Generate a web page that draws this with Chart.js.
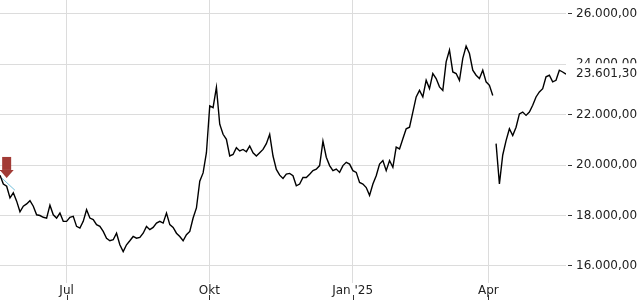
<!DOCTYPE html>
<html>
<head>
<meta charset="utf-8">
<script src="https://cdn.jsdelivr.net/npm/chart.js"></script>
<style>
  html, body { margin: 0; padding: 0; background: #fff; }
  #wrap { width: 640px; height: 300px; }
</style>
</head>
<body>
<div id="wrap"><canvas id="myChart" width="640" height="300"></canvas></div>
<script>
// index level, one sample about every 1.5 sessions (late May 2024 .. late May 2025)
var closes = [
  19600, 19250, 19160, 18700, 18900, 18570, 18150, 18370, 18460, 18590,
  18370, 18030, 18000, 17930, 17900, 18410, 18030, 17900, 18100, 17770,
  17770, 17930, 17970, 17570, 17500, 17770, 18230, 17900, 17840, 17640,
  17570, 17370, 17100, 17000, 17040, 17300, 16840, 16570, 16840, 17000,
  17170, 17100, 17130, 17300, 17570, 17440, 17530, 17700, 17770, 17700,
  18100, 17640, 17530, 17300, 17170, 17000, 17240, 17370, 17900, 18300,
  19360, 19690, 20490, 22350, 22280, 23080, 21620, 21220, 21020, 20360,
  20420, 20690, 20560, 20620, 20530, 20760, 20490, 20360, 20490, 20620,
  20850, 21220, 20360, 19830, 19600, 19470, 19640, 19670, 19580, 19180,
  19250, 19510, 19510, 19640, 19780, 19840, 19980, 20950, 20310, 19980,
  19780, 19840, 19710, 19980, 20110, 20040, 19780, 19710, 19310, 19250,
  19110, 18800, 19250, 19580, 20040, 20180, 19780, 20180, 19910, 20710,
  20640, 21040, 21440, 21500, 22100, 22700, 22960, 22700, 23360, 23030,
  23630, 23430, 23100, 22960, 24090, 24560, 23690, 23630, 23360, 24230,
  24720, 24420, 23760, 23560, 23430, 23760, 23300, 23160, 22760, 20850,
  19250, 20400, 20970, 21440, 21170, 21500, 22030, 22100, 21970, 22100,
  22370, 22700, 22900, 23030, 23500, 23560, 23300, 23360, 23760, 23690,
  23601.30
];
var gapAfter = [148];          // no line across the April gap
var lastPrice = 23601.30;

var xTickPos = [20, 62.9, 105.9, 146.7];
var xTickLabels = ['Jul', 'Okt', "Jan '25", 'Apr'];
var yTicks = [16000, 18000, 20000, 22000, 24000, 26000];

// sell signal arrow + short trend stroke at the start
var signalIndex = 2;
var signalValue = 19490;
var trendX = [0.6, 4.5];
var trendY = [19480, 19000];

function fmt(v) {
    var s = v.toFixed(2).split('.');
    return s[0].replace(/\B(?=(\d{3})+(?!\d))/g, '.') + ',' + s[1];
}

var points = [];
for (var i = 0; i < closes.length; ++i) {
    points.push({x: i, y: closes[i]});
    if (gapAfter.indexOf(i) >= 0) {
        points.push({x: i + 0.5, y: null});
    }
}
var trend = trendX.map(function (x, k) { return {x: x, y: trendY[k]}; });

var font = {family: 'DejaVu Sans', size: 12};

var overlay = {
    id: 'overlay',
    afterDatasetsDraw: function (chart) {
        var ctx = chart.ctx;
        var xs = chart.scales.x, ys = chart.scales.y;
        // red arrow
        var tx = xs.getPixelForValue(signalIndex);
        var ty = ys.getPixelForValue(signalValue);
        ctx.save();
        ctx.fillStyle = '#a23b36';
        ctx.fillRect(tx - 4.5, ty - 21, 9, 13);
        ctx.beginPath();
        ctx.moveTo(tx - 7, ty - 8);
        ctx.lineTo(tx + 7, ty - 8);
        ctx.lineTo(tx, ty);
        ctx.closePath();
        ctx.fill();
        ctx.restore();
    },
    afterDraw: function (chart) {
        var ctx = chart.ctx;
        var xs = chart.scales.x, ys = chart.scales.y;
        ctx.save();
        // little tick marks under the month labels
        ctx.strokeStyle = '#333';
        ctx.lineWidth = 1;
        xTickPos.forEach(function (v) {
            var px = Math.round(xs.getPixelForValue(v)) + 0.5;
            ctx.beginPath();
            ctx.moveTo(px, xs.bottom - 5);
            ctx.lineTo(px, xs.bottom);
            ctx.stroke();
        });
        // last price label
        var py = ys.getPixelForValue(lastPrice);
        ctx.fillStyle = '#fff';
        ctx.fillRect(ys.left + 2, py - 11, ys.width, 21);
        ctx.fillStyle = '#222';
        ctx.font = '12px "DejaVu Sans"';
        ctx.textBaseline = 'middle';
        ctx.fillText(fmt(lastPrice), ys.left + 10, py);
        ctx.restore();
    }
};

new Chart(document.getElementById('myChart'), {
    type: 'line',
    data: {
        datasets: [{
            data: points,
            borderColor: '#000',
            borderWidth: 1.4,
            pointRadius: 0,
            tension: 0,
            spanGaps: false
        }, {
            data: trend,
            borderColor: 'rgba(100,185,215,0.9)',
            borderWidth: 1,
            pointRadius: 0
        }]
    },
    options: {
        responsive: false,
        animation: false,
        layout: {padding: 0},
        plugins: {legend: {display: false}, tooltip: {enabled: false}},
        scales: {
            x: {
                type: 'linear',
                min: 0,
                max: closes.length - 1,
                grid: {color: '#dcdcdc', drawTicks: false},
                border: {display: false},
                afterBuildTicks: function (s) {
                    s.ticks = xTickPos.map(function (v) { return {value: v}; });
                },
                ticks: {
                    autoSkip: false,
                    maxRotation: 0,
                    padding: 1,
                    color: '#222',
                    font: font,
                    callback: function (v, i) { return xTickLabels[i]; }
                },
                afterFit: function (s) { s.height = 17; s.paddingLeft = 0; s.paddingRight = 0; }
            },
            y: {
                position: 'right',
                min: 15326,
                max: 26543,
                afterBuildTicks: function (s) {
                    s.ticks = yTicks.map(function (v) { return {value: v}; });
                },
                grid: {color: '#dcdcdc', tickColor: '#333', tickLength: 6, tickBorderDash: [0, 2, 4, 20]},
                border: {display: false},
                ticks: {
                    padding: 4,
                    color: '#222',
                    font: font,
                    callback: function (v) { return fmt(v); }
                },
                afterFit: function (s) { s.width = 74; s.paddingTop = 0; s.paddingBottom = 0; }
            }
        }
    },
    plugins: [overlay]
});
</script>
</body>
</html>
